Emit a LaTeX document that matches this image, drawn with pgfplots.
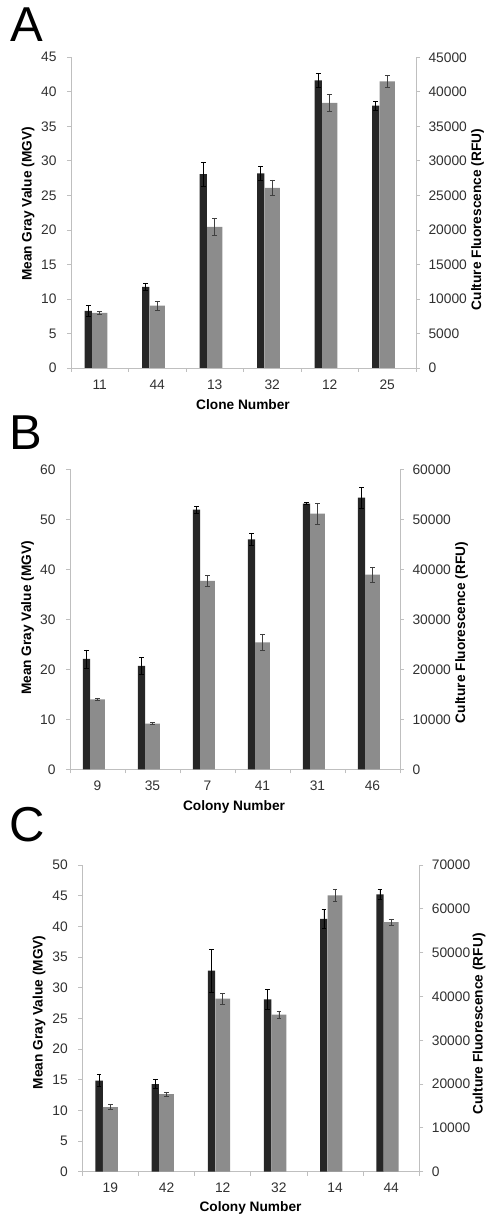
\documentclass[border=0pt]{standalone}
\usepackage{fontspec}
\setmainfont{Liberation Sans}
\usepackage{pgfplots}
\pgfplotsset{compat=1.18}
\definecolor{darkbar}{HTML}{262626}
\definecolor{greybar}{HTML}{8C8C8C}
\definecolor{axgrey}{HTML}{BFBFBF}
\definecolor{ticktext}{HTML}{303030}
\newcommand{\tickfont}{\fontsize{13.8}{16}\selectfont}
\newcommand{\labfont}{\bfseries\fontsize{13.7}{16}\selectfont}
\pgfplotsset{
  panel/.style={scale only axis, anchor=south west, xmin=-0.5, xmax=5.5, ymin=0, clip=false,
    tick align=outside, axis line style={axgrey, line width=0.8pt},
    tick style={axgrey, line width=0.8pt}, major tick length=4pt, minor tick length=4pt,
    ticklabel style={font=\tickfont, text=ticktext},
    /pgf/number format/assume math mode=true, /pgf/number format/1000 sep={},
    scaled y ticks=false},
  leftax/.style={panel, axis x line*=bottom, axis y line*=left,
    yticklabel style={xshift=-7pt},
    xtick={-0.5,0.5,...,5.5}, xticklabels={},
    extra x ticks={0,1,2,3,4,5},
    extra x tick style={major tick length=0pt, xticklabel style={yshift=-8pt}}},
  rightax/.style={panel, axis x line=none, axis y line*=right,
    yticklabel style={xshift=5pt}},
  darkplot/.style={ybar, bar width=0.13, bar shift=0, fill=darkbar, draw=none,
    error bars/.cd, y dir=both, y explicit,
    error bar style={black, line width=0.6pt},
    error mark options={rotate=90, black, mark size=2.3pt, line width=0.6pt}},
  greyplot/.style={ybar, bar width=0.265, bar shift=0, fill=greybar, draw=none,
    error bars/.cd, y dir=both, y explicit,
    error bar style={black!75, line width=0.6pt},
    error mark options={rotate=90, black!75, mark size=2.3pt, line width=0.6pt}},
}
\begin{document}
\begin{tikzpicture}
\path[use as bounding box] (0,0) rectangle (486pt,1219pt);
% ---------------- Panel A ----------------
\begin{axis}[leftax, at={(71pt,851pt)}, width=345pt, height=310.7pt,
  ymax=45, ytick={0,5,...,45}, extra x tick labels={11,44,13,32,12,25}]
\addplot[darkplot] coordinates {
 (-0.2,8.26) +- (0,0.83)
 (0.8,11.74) +- (0,0.55)
 (1.8,28.08) +- (0,1.7)
 (2.8,28.2) +- (0,1.0)
 (3.8,41.66) +- (0,1.05)
 (4.8,38.0) +- (0,0.65)};
\end{axis}
\begin{axis}[rightax, at={(71pt,851pt)}, width=345pt, height=310.7pt,
  ymax=45000, ytick={0,5000,...,45000}]
\addplot[greyplot] coordinates {
 (0,8000) +- (0,200)
 (1,9040) +- (0,650)
 (2,20440) +- (0,1200)
 (3,26100) +- (0,1150)
 (4,38400) +- (0,1200)
 (5,41500) +- (0,900)};
\end{axis}
% ---------------- Panel B ----------------
\begin{axis}[leftax, at={(70pt,449.7pt)}, width=330pt, height=300pt,
  ymax=60, ytick={0,10,...,60}, extra x tick labels={9,35,7,41,31,46}]
\addplot[darkplot] coordinates {
 (-0.2,22.07) +- (0,1.8)
 (0.8,20.67) +- (0,1.75)
 (1.8,51.93) +- (0,0.7)
 (2.8,46.0) +- (0,1.2)
 (3.8,53.13) +- (0,0.2)
 (4.8,54.33) +- (0,2.1)};
\end{axis}
\begin{axis}[rightax, at={(70pt,449.7pt)}, width=330pt, height=300pt,
  ymax=60000, ytick={0,10000,...,60000}]
\addplot[greyplot] coordinates {
 (0,14000) +- (0,270)
 (1,9130) +- (0,200)
 (2,37670) +- (0,1130)
 (3,25400) +- (0,1670)
 (4,51130) +- (0,2070)
 (5,38930) +- (0,1470)};
\end{axis}
% ---------------- Panel C ----------------
\begin{axis}[leftax, at={(82.3pt,47.3pt)}, width=337pt, height=306.7pt,
  ymax=50, ytick={0,5,...,50}, extra x tick labels={19,42,12,32,14,44}]
\addplot[darkplot] coordinates {
 (-0.2,14.84) +- (0,0.96)
 (0.8,14.29) +- (0,0.76)
 (1.8,32.77) +- (0,3.48)
 (2.8,28.1) +- (0,1.6)
 (3.8,41.2) +- (0,1.57)
 (4.8,45.22) +- (0,0.8)};
\end{axis}
\begin{axis}[rightax, at={(82.3pt,47.3pt)}, width=337pt, height=306.7pt,
  ymax=70000, ytick={0,10000,...,70000}]
\addplot[greyplot] coordinates {
 (0,14761) +- (0,610)
 (1,17728) +- (0,460)
 (2,39489) +- (0,1220)
 (3,35837) +- (0,760)
 (4,63076) +- (0,1370)
 (5,56989) +- (0,690)};
\end{axis}
% ---------------- Labels ----------------
\node[anchor=base west, inner sep=0, font=\fontsize{49}{52}\selectfont] at (10pt,1177pt) {A};
\node[anchor=base west, inner sep=0, font=\fontsize{49}{52}\selectfont] at (9pt,769pt) {B};
\node[anchor=base west, inner sep=0, font=\fontsize{49}{52}\selectfont] at (9pt,377pt) {C};
\node[rotate=90, inner sep=0, font=\labfont] at (28pt,1015pt) {Mean Gray Value (MGV)};
\node[rotate=90, inner sep=0, font=\labfont] at (477.5pt,999.5pt) {Culture Fluorescence (RFU)};
\node[inner sep=0, font=\labfont] at (243pt,814pt) {Clone Number};
\node[rotate=90, inner sep=0, font=\labfont] at (27.5pt,601pt) {Mean Gray Value (MGV)};
\node[rotate=90, inner sep=0, font=\labfont] at (461.5pt,586.5pt) {Culture Fluorescence (RFU)};
\node[inner sep=0, font=\labfont] at (234pt,412.3pt) {Colony Number};
\node[rotate=90, inner sep=0, font=\labfont] at (39pt,206.5pt) {Mean Gray Value (MGV)};
\node[rotate=90, inner sep=0, font=\labfont] at (479pt,195pt) {Culture Fluorescence (RFU)};
\node[inner sep=0, font=\labfont] at (250.5pt,10.7pt) {Colony Number};
\end{tikzpicture}
\end{document}
